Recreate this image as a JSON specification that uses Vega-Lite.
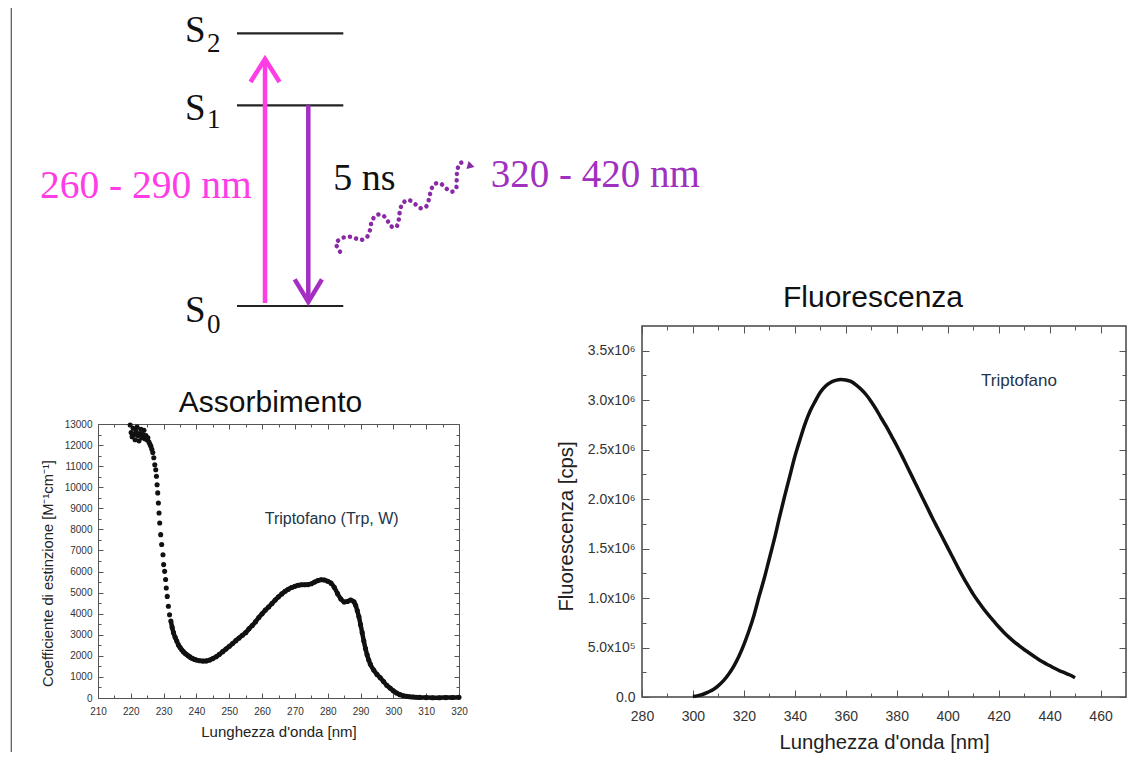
{
  "$schema": "https://vega.github.io/schema/vega-lite/v6.json",
  "padding": {"left": 10, "top": 0, "right": 0, "bottom": 0},
  "background": "white",
  "config": {
    "view": {"stroke": null},
    "axis": {"grid": false, "domain": false, "minExtent": 0, "labelFont": "Liberation Sans", "titleFont": "Liberation Sans", "titleFontWeight": "normal", "labelColor": "#333", "titleColor": "#222", "tickColor": "#555", "tickWidth": 1, "labelFlush": false, "labelOverlap": false},
    "title": {"font": "Liberation Sans", "fontWeight": "normal", "color": "#111"}
  },
  "bounds": "flush",
  "spacing": 544,
  "hconcat": [
    {
      "bounds": "flush",
      "spacing": 84,
      "vconcat": [
        {
          "width": 361, "height": 340,
          "view": {"stroke": null},
          "layer": [
            {
              "data": {"values": [{"x": -86.7, "y1": 8, "y2": 752}]},
              "mark": {"type": "rule", "color": "#555", "strokeWidth": 1.2},
              "encoding": {
                "x": {"field": "x", "type": "quantitative", "scale": {"domain": [0, 361], "nice": false, "zero": false}, "axis": null},
                "y": {"field": "y1", "type": "quantitative", "scale": {"domain": [0, 340], "reverse": true, "nice": false, "zero": false}, "axis": null},
                "y2": {"field": "y2"}
              }
            },
            {
              "data": {"values": [{"a": 139, "b": 245.3, "y": 33.3}, {"a": 139, "b": 245.3, "y": 105.3}, {"a": 139, "b": 245.3, "y": 306}]},
              "mark": {"type": "rule", "color": "#222", "strokeWidth": 2.2},
              "encoding": {
                "x": {"field": "a", "type": "quantitative"},
                "x2": {"field": "b"},
                "y": {"field": "y", "type": "quantitative"}
              }
            },
            {
              "data": {"values": [{"x": 87, "y": 41.5, "t": "S"}, {"x": 87, "y": 119.5, "t": "S"}, {"x": 87, "y": 321.5, "t": "S"}]},
              "mark": {"type": "text", "font": "Liberation Serif", "fontSize": 37, "align": "left", "baseline": "alphabetic", "color": "#111"},
              "encoding": {"x": {"field": "x", "type": "quantitative"}, "y": {"field": "y", "type": "quantitative"}, "text": {"field": "t"}}
            },
            {
              "data": {"values": [{"x": 109, "y": 52, "t": "2"}, {"x": 109, "y": 128, "t": "1"}, {"x": 109, "y": 333, "t": "0"}]},
              "mark": {"type": "text", "font": "Liberation Serif", "fontSize": 27, "align": "left", "baseline": "alphabetic", "color": "#111"},
              "encoding": {"x": {"field": "x", "type": "quantitative"}, "y": {"field": "y", "type": "quantitative"}, "text": {"field": "t"}}
            },
            {
              "data": {"values": [{"x": 167, "y1": 303, "y2": 60}]},
              "mark": {"type": "rule", "color": "#ff3ce6", "strokeWidth": 4.5},
              "encoding": {"x": {"field": "x", "type": "quantitative"}, "y": {"field": "y1", "type": "quantitative"}, "y2": {"field": "y2"}}
            },
            {
              "data": {"values": [{"x": 167, "y": 59}]},
              "mark": {"type": "point", "shape": "M-0.63,1L0,0L0.63,1", "size": 2116, "filled": false, "strokeWidth": 4.5, "color": "#ff3ce6", "opacity": 1},
              "encoding": {"x": {"field": "x", "type": "quantitative"}, "y": {"field": "y", "type": "quantitative"}}
            },
            {
              "data": {"values": [{"x": 210.3, "y1": 105.3, "y2": 301}]},
              "mark": {"type": "rule", "color": "#a52dc3", "strokeWidth": 4.5},
              "encoding": {"x": {"field": "x", "type": "quantitative"}, "y": {"field": "y1", "type": "quantitative"}, "y2": {"field": "y2"}}
            },
            {
              "data": {"values": [{"x": 210.3, "y": 302}]},
              "mark": {"type": "point", "shape": "M-0.6,-1L0,0L0.6,-1", "size": 2061, "filled": false, "strokeWidth": 4.5, "color": "#a52dc3", "opacity": 1},
              "encoding": {"x": {"field": "x", "type": "quantitative"}, "y": {"field": "y", "type": "quantitative"}}
            },
            {
              "data": {"values": [
                {"i": 0, "x": 242, "y": 251.7}, {"i": 1, "x": 238, "y": 243.3}, {"i": 2, "x": 242, "y": 239.3}, {"i": 3, "x": 248.7, "y": 236.7},
                {"i": 4, "x": 255.3, "y": 237.3}, {"i": 5, "x": 262, "y": 240}, {"i": 6, "x": 268.7, "y": 237.3}, {"i": 7, "x": 272, "y": 230},
                {"i": 8, "x": 273.7, "y": 221.7}, {"i": 9, "x": 278, "y": 215.3}, {"i": 10, "x": 283.7, "y": 214.7}, {"i": 11, "x": 288.7, "y": 219.3},
                {"i": 12, "x": 292.7, "y": 226}, {"i": 13, "x": 298, "y": 227.3}, {"i": 14, "x": 300.7, "y": 220}, {"i": 15, "x": 302, "y": 210.7},
                {"i": 16, "x": 304.7, "y": 203.3}, {"i": 17, "x": 310.3, "y": 200}, {"i": 18, "x": 317, "y": 204}, {"i": 19, "x": 322.7, "y": 208.3},
                {"i": 20, "x": 328, "y": 206.7}, {"i": 21, "x": 330.7, "y": 200}, {"i": 22, "x": 332.7, "y": 191.7}, {"i": 23, "x": 336, "y": 184.3},
                {"i": 24, "x": 342, "y": 183.3}, {"i": 25, "x": 348, "y": 188.3}, {"i": 26, "x": 353.7, "y": 191.7}, {"i": 27, "x": 358, "y": 188.3},
                {"i": 28, "x": 358.7, "y": 180}, {"i": 29, "x": 359.3, "y": 170.7}, {"i": 30, "x": 362, "y": 163.3}, {"i": 31, "x": 367, "y": 162}
              ]},
              "mark": {"type": "line", "color": "#8a2aa5", "strokeWidth": 4.5, "strokeDash": [0.1, 6.3], "strokeCap": "round", "interpolate": "catmull-rom"},
              "encoding": {"x": {"field": "x", "type": "quantitative"}, "y": {"field": "y", "type": "quantitative"}, "order": {"field": "i", "type": "quantitative"}}
            },
            {
              "data": {"values": [{"x": 373, "y": 166}]},
              "mark": {"type": "point", "shape": "triangle-right", "size": 70, "filled": true, "angle": 15, "color": "#8a2aa5", "opacity": 1},
              "encoding": {"x": {"field": "x", "type": "quantitative"}, "y": {"field": "y", "type": "quantitative"}}
            },
            {
              "data": {"values": [{"x": 153.7, "y": 198.3, "t": "260 - 290 nm"}]},
              "mark": {"type": "text", "font": "Liberation Serif", "fontSize": 39.5, "align": "right", "baseline": "alphabetic", "color": "#ff3ce6"},
              "encoding": {"x": {"field": "x", "type": "quantitative"}, "y": {"field": "y", "type": "quantitative"}, "text": {"field": "t"}}
            },
            {
              "data": {"values": [{"x": 235.3, "y": 190, "t": "5 ns"}]},
              "mark": {"type": "text", "font": "Liberation Serif", "fontSize": 38, "align": "left", "baseline": "alphabetic", "color": "#111"},
              "encoding": {"x": {"field": "x", "type": "quantitative"}, "y": {"field": "y", "type": "quantitative"}, "text": {"field": "t"}}
            },
            {
              "data": {"values": [{"x": 392.7, "y": 186.7, "t": "320 - 420 nm"}]},
              "mark": {"type": "text", "font": "Liberation Serif", "fontSize": 39, "align": "left", "baseline": "alphabetic", "color": "#a030c0"},
              "encoding": {"x": {"field": "x", "type": "quantitative"}, "y": {"field": "y", "type": "quantitative"}, "text": {"field": "t"}}
            }
          ]
        },
        {
          "width": 361, "height": 274,
          "view": {"stroke": "#555", "strokeWidth": 1},
          "title": {"text": "Assorbimento", "fontSize": 30, "offset": 1, "dx": -8, "frame": "group"},
          "data": {"values": [
            {"wl": 219.8, "eps": 12950}, {"wl": 220.1, "eps": 12600}, {"wl": 220.4, "eps": 12400}, {"wl": 220.7, "eps": 12800}, {"wl": 221.0, "eps": 12500},
            {"wl": 221.3, "eps": 12250}, {"wl": 221.6, "eps": 12650}, {"wl": 221.9, "eps": 12850}, {"wl": 222.2, "eps": 12450}, {"wl": 222.5, "eps": 12200},
            {"wl": 222.8, "eps": 12550}, {"wl": 223.1, "eps": 12750}, {"wl": 223.4, "eps": 12350}, {"wl": 223.7, "eps": 12500}, {"wl": 224.0, "eps": 12700},
            {"wl": 224.3, "eps": 12300}, {"wl": 224.6, "eps": 12450}, {"wl": 224.9, "eps": 12250}, {"wl": 225.2, "eps": 12350}, {"wl": 225.5, "eps": 12150},
            {"wl": 225.8, "eps": 12050}, {"wl": 226.1, "eps": 11950}, {"wl": 226.4, "eps": 11800}, {"wl": 226.7, "eps": 11650}, {"wl": 227.0, "eps": 11400},
            {"wl": 227.3, "eps": 11070}, {"wl": 227.6, "eps": 10830}, {"wl": 227.8, "eps": 10520}, {"wl": 228.0, "eps": 10120}, {"wl": 228.2, "eps": 9730},
            {"wl": 228.4, "eps": 9250}, {"wl": 228.6, "eps": 8780}, {"wl": 228.8, "eps": 8300}, {"wl": 229.1, "eps": 7750}, {"wl": 229.4, "eps": 7280},
            {"wl": 229.8, "eps": 6800}, {"wl": 230.0, "eps": 6330}, {"wl": 230.3, "eps": 6010}, {"wl": 230.6, "eps": 5620}, {"wl": 230.8, "eps": 5220},
            {"wl": 231.1, "eps": 4820}, {"wl": 231.45, "eps": 4350}, {"wl": 231.8, "eps": 3950}, {"wl": 232.2, "eps": 3650}, {"wl": 232.6, "eps": 3350},
            {"wl": 233.0, "eps": 3100}, {"wl": 233.5, "eps": 2880}, {"wl": 234.0, "eps": 2700}, {"wl": 234.5, "eps": 2520}, {"wl": 235.0, "eps": 2400},
            {"wl": 235.5, "eps": 2290}, {"wl": 236.0, "eps": 2200}, {"wl": 236.5, "eps": 2120}, {"wl": 237.0, "eps": 2060}, {"wl": 237.5, "eps": 2000},
            {"wl": 238.0, "eps": 1950}, {"wl": 238.5, "eps": 1900}, {"wl": 239.0, "eps": 1860}, {"wl": 239.5, "eps": 1830}, {"wl": 240, "eps": 1800},
            {"wl": 241, "eps": 1770}, {"wl": 242, "eps": 1750}, {"wl": 243, "eps": 1760}, {"wl": 244, "eps": 1800}, {"wl": 245, "eps": 1870},
            {"wl": 246, "eps": 1960}, {"wl": 247, "eps": 2070}, {"wl": 248, "eps": 2200}, {"wl": 249, "eps": 2320}, {"wl": 250, "eps": 2450},
            {"wl": 251, "eps": 2580}, {"wl": 252, "eps": 2720}, {"wl": 253, "eps": 2850}, {"wl": 254, "eps": 2980}, {"wl": 255, "eps": 3100},
            {"wl": 256, "eps": 3280}, {"wl": 257, "eps": 3440}, {"wl": 258, "eps": 3620}, {"wl": 259, "eps": 3820}, {"wl": 260, "eps": 4000},
            {"wl": 261, "eps": 4170}, {"wl": 262, "eps": 4320}, {"wl": 263, "eps": 4480}, {"wl": 264, "eps": 4650}, {"wl": 265, "eps": 4800},
            {"wl": 266, "eps": 4940}, {"wl": 267, "eps": 5060}, {"wl": 268, "eps": 5160}, {"wl": 269, "eps": 5240}, {"wl": 270, "eps": 5300},
            {"wl": 271, "eps": 5350}, {"wl": 272, "eps": 5370}, {"wl": 273, "eps": 5370}, {"wl": 274, "eps": 5380}, {"wl": 275, "eps": 5420},
            {"wl": 276, "eps": 5500}, {"wl": 277, "eps": 5570}, {"wl": 278, "eps": 5610}, {"wl": 279, "eps": 5600}, {"wl": 280, "eps": 5540},
            {"wl": 281, "eps": 5450}, {"wl": 282, "eps": 5250}, {"wl": 283, "eps": 4950}, {"wl": 284, "eps": 4700}, {"wl": 285, "eps": 4560},
            {"wl": 286, "eps": 4580}, {"wl": 287, "eps": 4650}, {"wl": 288, "eps": 4560}, {"wl": 288.5, "eps": 4400}, {"wl": 289, "eps": 4150},
            {"wl": 289.5, "eps": 3850}, {"wl": 290, "eps": 3480}, {"wl": 290.5, "eps": 3100}, {"wl": 291, "eps": 2700}, {"wl": 291.5, "eps": 2350},
            {"wl": 292, "eps": 2050}, {"wl": 292.5, "eps": 1800}, {"wl": 293, "eps": 1600}, {"wl": 294, "eps": 1330}, {"wl": 295, "eps": 1120},
            {"wl": 296, "eps": 960}, {"wl": 297, "eps": 780}, {"wl": 298, "eps": 600}, {"wl": 299, "eps": 470}, {"wl": 300, "eps": 340},
            {"wl": 301, "eps": 237}, {"wl": 302, "eps": 160}, {"wl": 303, "eps": 110}, {"wl": 304, "eps": 80}, {"wl": 305, "eps": 60},
            {"wl": 306, "eps": 45}, {"wl": 307, "eps": 35}, {"wl": 308, "eps": 28}, {"wl": 310, "eps": 20}, {"wl": 312, "eps": 15},
            {"wl": 314, "eps": 15}, {"wl": 316, "eps": 20}, {"wl": 318, "eps": 25}, {"wl": 320, "eps": 30}
          ]},
          "resolve": {"axis": {"x": "independent", "y": "independent"}},
          "layer": [
            {
              "transform": [{"filter": "datum.wl >= 232"}],
              "mark": {"type": "line", "color": "#111", "strokeWidth": 4.5, "interpolate": "monotone"},
              "encoding": {
                "x": {"field": "wl", "type": "quantitative", "scale": {"domain": [210, 320], "nice": false, "zero": false},
                  "axis": {"orient": "bottom", "values": [210, 220, 230, 240, 250, 260, 270, 280, 290, 300, 310, 320], "format": "d", "tickSize": -5, "labelPadding": 13, "labelFontSize": 10, "title": "Lunghezza d'onda [nm]", "titleFontSize": 15, "titlePadding": 8}},
                "y": {"field": "eps", "type": "quantitative", "scale": {"domain": [0, 13000], "nice": false, "zero": false},
                  "axis": {"orient": "left", "values": [0, 1000, 2000, 3000, 4000, 5000, 6000, 7000, 8000, 9000, 10000, 11000, 12000, 13000], "format": "d", "tickSize": -5, "labelPadding": 11, "labelFontSize": 10, "title": "Coefficiente di estinzione [M⁻¹cm⁻¹]", "titleFontSize": 14.7, "titlePadding": 9, "titleY": 149}}
              }
            },
            {
              "mark": {"type": "circle", "color": "#111", "size": 26, "opacity": 1},
              "encoding": {
                "x": {"field": "wl", "type": "quantitative", "scale": {"domain": [210, 320], "nice": false, "zero": false},
                  "axis": {"orient": "top", "values": [210, 220, 230, 240, 250, 260, 270, 280, 290, 300, 310, 320], "labels": false, "tickSize": -5, "title": null}},
                "y": {"field": "eps", "type": "quantitative", "scale": {"domain": [0, 13000], "nice": false, "zero": false},
                  "axis": {"orient": "right", "values": [0, 1000, 2000, 3000, 4000, 5000, 6000, 7000, 8000, 9000, 10000, 11000, 12000, 13000], "labels": false, "tickSize": -5, "title": null}}
              }
            },
            {
              "transform": [{"filter": "datum.wl < 0"}],
              "mark": {"type": "point", "opacity": 0},
              "encoding": {
                "x": {"field": "wl", "type": "quantitative", "scale": {"domain": [210, 320], "nice": false, "zero": false},
                  "axis": {"orient": "bottom", "values": [215, 225, 235, 245, 255, 265, 275, 285, 295, 305, 315], "labels": false, "tickSize": -3, "title": null}},
                "y": {"field": "eps", "type": "quantitative", "scale": {"domain": [0, 13000], "nice": false, "zero": false},
                  "axis": {"orient": "left", "values": [500, 1500, 2500, 3500, 4500, 5500, 6500, 7500, 8500, 9500, 10500, 11500, 12500], "labels": false, "tickSize": -3, "title": null}}
              }
            },
            {
              "transform": [{"filter": "datum.wl < 0"}],
              "mark": {"type": "point", "opacity": 0},
              "encoding": {
                "x": {"field": "wl", "type": "quantitative", "scale": {"domain": [210, 320], "nice": false, "zero": false},
                  "axis": {"orient": "top", "values": [215, 225, 235, 245, 255, 265, 275, 285, 295, 305, 315], "labels": false, "tickSize": -3, "title": null}},
                "y": {"field": "eps", "type": "quantitative", "scale": {"domain": [0, 13000], "nice": false, "zero": false},
                  "axis": {"orient": "right", "values": [500, 1500, 2500, 3500, 4500, 5500, 6500, 7500, 8500, 9500, 10500, 11500, 12500], "labels": false, "tickSize": -3, "title": null}}
              }
            },
            {
              "data": {"values": [{"wl": 260.8, "eps": 8270, "t": "Triptofano (Trp, W)"}]},
              "mark": {"type": "text", "align": "left", "baseline": "alphabetic", "font": "Liberation Sans", "fontSize": 16, "color": "#233548"},
              "encoding": {
                "x": {"field": "wl", "type": "quantitative", "scale": {"domain": [210, 320], "nice": false, "zero": false}, "axis": null},
                "y": {"field": "eps", "type": "quantitative", "scale": {"domain": [0, 13000], "nice": false, "zero": false}, "axis": null},
                "text": {"field": "t"}
              }
            }
          ]
        }
      ]
    },
    {
      "bounds": "flush",
      "spacing": 20,
      "vconcat": [
        {
          "width": 10, "height": 306,
          "view": {"stroke": null},
          "data": {"values": [{"a": 0}]},
          "mark": {"type": "text", "text": ""},
          "encoding": {}
        },
        {
          "width": 484, "height": 371,
          "view": {"stroke": "#444", "strokeWidth": 1.5},
          "title": {"text": "Fluorescenza", "fontSize": 30, "offset": 13, "dx": -11, "frame": "group"},
          "data": {"values": [
            {"wl": 300, "f": 5000}, {"wl": 302, "f": 14000}, {"wl": 304, "f": 28000}, {"wl": 306, "f": 50000}, {"wl": 308, "f": 75000},
            {"wl": 310, "f": 115000}, {"wl": 312, "f": 165000}, {"wl": 314, "f": 230000}, {"wl": 316, "f": 310000}, {"wl": 318, "f": 410000},
            {"wl": 320, "f": 530000}, {"wl": 322, "f": 670000}, {"wl": 324, "f": 830000}, {"wl": 326, "f": 1020000}, {"wl": 328, "f": 1200000},
            {"wl": 330, "f": 1400000}, {"wl": 332, "f": 1600000}, {"wl": 334, "f": 1820000}, {"wl": 336, "f": 2030000}, {"wl": 338, "f": 2230000},
            {"wl": 340, "f": 2430000}, {"wl": 342, "f": 2600000}, {"wl": 344, "f": 2760000}, {"wl": 346, "f": 2890000}, {"wl": 348, "f": 2990000},
            {"wl": 350, "f": 3080000}, {"wl": 352, "f": 3140000}, {"wl": 354, "f": 3180000}, {"wl": 356, "f": 3200000}, {"wl": 358, "f": 3210000},
            {"wl": 360, "f": 3205000}, {"wl": 362, "f": 3190000}, {"wl": 364, "f": 3155000}, {"wl": 366, "f": 3110000}, {"wl": 368, "f": 3055000},
            {"wl": 370, "f": 2985000}, {"wl": 372, "f": 2905000}, {"wl": 374, "f": 2815000}, {"wl": 376, "f": 2730000}, {"wl": 378, "f": 2635000},
            {"wl": 380, "f": 2540000}, {"wl": 382, "f": 2440000}, {"wl": 384, "f": 2335000}, {"wl": 386, "f": 2230000}, {"wl": 388, "f": 2125000},
            {"wl": 390, "f": 2020000}, {"wl": 392, "f": 1915000}, {"wl": 394, "f": 1810000}, {"wl": 396, "f": 1710000}, {"wl": 398, "f": 1610000},
            {"wl": 400, "f": 1510000}, {"wl": 402, "f": 1410000}, {"wl": 404, "f": 1310000}, {"wl": 406, "f": 1215000}, {"wl": 408, "f": 1125000},
            {"wl": 410, "f": 1040000}, {"wl": 412, "f": 965000}, {"wl": 414, "f": 895000}, {"wl": 416, "f": 830000}, {"wl": 418, "f": 770000},
            {"wl": 420, "f": 710000}, {"wl": 422, "f": 655000}, {"wl": 424, "f": 605000}, {"wl": 426, "f": 560000}, {"wl": 428, "f": 520000},
            {"wl": 430, "f": 480000}, {"wl": 432, "f": 445000}, {"wl": 434, "f": 410000}, {"wl": 436, "f": 375000}, {"wl": 438, "f": 345000},
            {"wl": 440, "f": 318000}, {"wl": 442, "f": 290000}, {"wl": 444, "f": 265000}, {"wl": 446, "f": 245000}, {"wl": 448, "f": 222000},
            {"wl": 450, "f": 195000}
          ]},
          "resolve": {"axis": {"x": "independent", "y": "independent"}},
          "layer": [
            {
              "mark": {"type": "line", "color": "#111", "strokeWidth": 3.5, "interpolate": "monotone"},
              "encoding": {
                "x": {"field": "wl", "type": "quantitative", "scale": {"domain": [280, 470], "nice": false, "zero": false},
                  "axis": {"orient": "bottom", "values": [280, 300, 320, 340, 360, 380, 400, 420, 440, 460], "format": "d", "tickSize": -7, "labelPadding": 19, "labelFontSize": 14, "title": "Lunghezza d'onda [nm]", "titleFontSize": 20.3, "titlePadding": 9}},
                "y": {"field": "f", "type": "quantitative", "scale": {"domain": [0, 3750000], "nice": false, "zero": false},
                  "axis": {"orient": "left", "values": [0, 500000, 1000000, 1500000, 2000000, 2500000, 3000000, 3500000], "tickSize": -7, "labelPadding": 14, "labelFontSize": 14,
                    "labelExpr": "datum.value == 0 ? '0.0' : (datum.value < 1000000 ? format(datum.value / 100000, '.1f') + 'x10⁵' : format(datum.value / 1000000, '.1f') + 'x10⁶')",
                    "title": "Fluorescenza [cps]", "titleFontSize": 20.3, "titlePadding": 11, "titleY": 200}}
              }
            },
            {
              "data": {"values": [{"wl": 413.1, "f": 3145000, "t": "Triptofano"}]},
              "mark": {"type": "text", "align": "left", "baseline": "alphabetic", "font": "Liberation Sans", "fontSize": 17, "color": "#233548"},
              "encoding": {
                "x": {"field": "wl", "type": "quantitative", "scale": {"domain": [280, 470], "nice": false, "zero": false},
                  "axis": {"orient": "top", "values": [280, 300, 320, 340, 360, 380, 400, 420, 440, 460], "labels": false, "tickSize": -7, "title": null}},
                "y": {"field": "f", "type": "quantitative", "scale": {"domain": [0, 3750000], "nice": false, "zero": false},
                  "axis": {"orient": "right", "values": [0, 500000, 1000000, 1500000, 2000000, 2500000, 3000000, 3500000], "labels": false, "tickSize": -7, "title": null}},
                "text": {"field": "t"}
              }
            },
            {
              "transform": [{"filter": "datum.wl < 0"}],
              "mark": {"type": "point", "opacity": 0},
              "encoding": {
                "x": {"field": "wl", "type": "quantitative", "scale": {"domain": [280, 470], "nice": false, "zero": false},
                  "axis": {"orient": "bottom", "values": [290, 310, 330, 350, 370, 390, 410, 430, 450], "labels": false, "tickSize": -4, "title": null}},
                "y": {"field": "f", "type": "quantitative", "scale": {"domain": [0, 3750000], "nice": false, "zero": false},
                  "axis": {"orient": "left", "values": [250000, 750000, 1250000, 1750000, 2250000, 2750000, 3250000], "labels": false, "tickSize": -4, "title": null}}
              }
            },
            {
              "transform": [{"filter": "datum.wl < 0"}],
              "mark": {"type": "point", "opacity": 0},
              "encoding": {
                "x": {"field": "wl", "type": "quantitative", "scale": {"domain": [280, 470], "nice": false, "zero": false},
                  "axis": {"orient": "top", "values": [290, 310, 330, 350, 370, 390, 410, 430, 450], "labels": false, "tickSize": -4, "title": null}},
                "y": {"field": "f", "type": "quantitative", "scale": {"domain": [0, 3750000], "nice": false, "zero": false},
                  "axis": {"orient": "right", "values": [250000, 750000, 1250000, 1750000, 2250000, 2750000, 3250000], "labels": false, "tickSize": -4, "title": null}}
              }
            }
          ]
        }
      ]
    }
  ]
}
